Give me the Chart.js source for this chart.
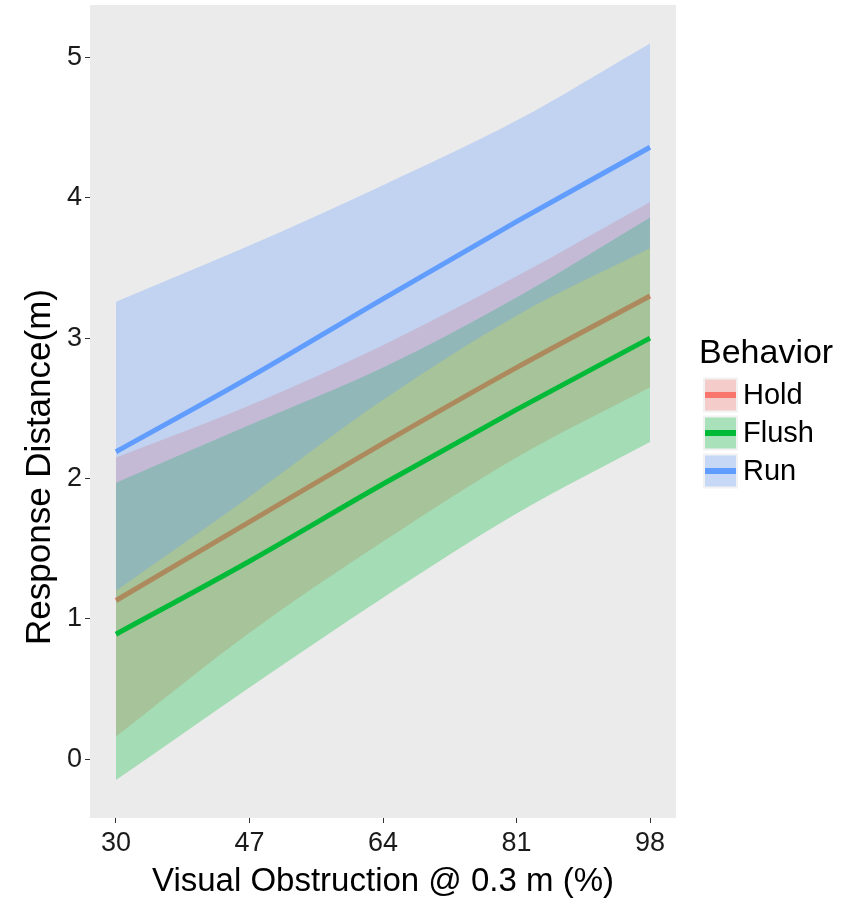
<!DOCTYPE html>
<html>
<head>
<meta charset="utf-8">
<script src="https://cdn.jsdelivr.net/npm/chart.js@4.4.1/dist/chart.umd.min.js"></script>
<style>
  html, body { margin: 0; padding: 0; background: #ffffff; }
  #wrap { width: 850px; height: 899px; }
</style>
</head>
<body>
<div id="wrap"><canvas id="c" width="850" height="899"></canvas></div>
<script>
// Visual obstruction (%) at which each behaviour is summarised
const xTicks = [30, 47, 64, 81, 98];
const yTicks = [0, 1, 2, 3, 4, 5];

// Fitted response distance (m) with its confidence band, per behaviour
const holdFit    = [1.13, 1.69, 2.25, 2.79, 3.30];
const holdUpper  = [2.15, 2.52, 2.95, 3.44, 3.97];
const holdLower  = [0.16, 0.90, 1.55, 2.15, 2.65];

const flushFit   = [0.89, 1.41, 1.96, 2.49, 3.00];
const flushUpper = [1.97, 2.38, 2.79, 3.29, 3.86];
const flushLower = [-0.15, 0.51, 1.15, 1.75, 2.26];

const runFit     = [2.19, 2.72, 3.28, 3.83, 4.36];
const runUpper   = [3.26, 3.66, 4.09, 4.55, 5.10];
const runLower   = [1.20, 1.87, 2.56, 3.16, 3.64];

const behaviors = ['Hold', 'Flush', 'Run'];
const lineColors = { Hold: '#F8766D', Flush: '#00BA38', Run: '#619CFF' };
const bandColors = {
  Hold: 'rgba(248,118,109,0.3)',
  Flush: 'rgba(0,186,56,0.3)',
  Run: 'rgba(97,156,255,0.3)'
};

const pts = arr => arr.map((v, i) => ({ x: xTicks[i], y: v }));

function bandPair(name, upper, lower, lowerIndex, order) {
  return [
    { label: name + ' upper', data: pts(upper), borderWidth: 0, pointRadius: 0,
      backgroundColor: bandColors[name], fill: lowerIndex, order: order,
      cubicInterpolationMode: 'monotone' },
    { label: name + ' lower', data: pts(lower), borderWidth: 0, pointRadius: 0,
      fill: false, order: order, cubicInterpolationMode: 'monotone' }
  ];
}
function fitLine(name, vals, order) {
  return { label: name, data: pts(vals), borderColor: lineColors[name], borderWidth: 5,
    pointRadius: 0, fill: false, order: order, cubicInterpolationMode: 'monotone',
    borderCapStyle: 'butt', borderJoinStyle: 'round' };
}

// Paint order: each behaviour's band then its line, Hold first, Run last
const datasets = [
  ...bandPair('Hold', holdUpper, holdLower, 1, 5),
  fitLine('Hold', holdFit, 4),
  ...bandPair('Flush', flushUpper, flushLower, 4, 3),
  fitLine('Flush', flushFit, 2),
  ...bandPair('Run', runUpper, runLower, 7, 1),
  fitLine('Run', runFit, 0)
];

const FONT = "'Liberation Sans', Arial, Helvetica, sans-serif";

const panelBg = {
  id: 'panelBg',
  beforeDraw(chart) {
    const { ctx, chartArea: a } = chart;
    ctx.save();
    ctx.fillStyle = '#EBEBEB';
    ctx.fillRect(a.left, a.top, a.right - a.left, a.bottom - a.top);
    ctx.restore();
  }
};

const titlesAndLegend = {
  id: 'titlesAndLegend',
  afterDraw(chart) {
    const { ctx } = chart;
    ctx.save();
    ctx.fillStyle = '#000000';
    // axis titles
    ctx.font = '33px ' + FONT;
    ctx.textAlign = 'center';
    ctx.textBaseline = 'middle';
    ctx.fillText('Visual Obstruction @ 0.3 m (%)', 383, 882);
    ctx.save();
    ctx.translate(40, 467);
    ctx.rotate(-Math.PI / 2);
    ctx.font = '35px ' + FONT;
    ctx.fillText('Response Distance(m)', 0, 0);
    ctx.restore();

    // legend
    ctx.textAlign = 'left';
    ctx.font = '34px ' + FONT;
    ctx.fillText('Behavior', 699, 354);
    ctx.font = '29px ' + FONT;
    behaviors.forEach((b, i) => {
      const cy = 395 + i * 38;
      const x0 = 703, w = 35, h = 35;
      ctx.fillStyle = '#F2F2F2';
      ctx.fillRect(x0, cy - h / 2, w, h);
      ctx.fillStyle = bandColors[b];
      ctx.fillRect(x0 + 2, cy - h / 2 + 2, w - 4, h - 4);
      ctx.fillStyle = lineColors[b];
      ctx.fillRect(x0 + 2, cy - 3, w - 4, 6);
      ctx.fillStyle = '#000000';
      ctx.fillText(b, 743, cy + 1);
    });
    ctx.restore();
  }
};

new Chart(document.getElementById('c'), {
  type: 'line',
  data: { datasets },
  plugins: [panelBg, titlesAndLegend],
  options: {
    responsive: false,
    animation: false,
    devicePixelRatio: 1,
    layout: { padding: { left: 0, top: 5, right: 174, bottom: 0 } },
    plugins: {
      legend: { display: false },
      tooltip: { enabled: false },
      filler: { propagate: false }
    },
    scales: {
      x: {
        type: 'linear',
        min: 26.69, max: 101.31,
        afterBuildTicks: s => { s.ticks = xTicks.map(v => ({ value: v })); },
        afterFit: s => { s.height = 81; s.paddingLeft = 0; s.paddingRight = 0; },
        grid: { drawOnChartArea: false, drawTicks: true, tickLength: 5, color: '#333333', lineWidth: 1 },
        border: { display: false },
        ticks: { color: '#1a1a1a', font: { family: FONT, size: 27 }, padding: 4, maxRotation: 0,
          autoSkip: false }
      },
      y: {
        type: 'linear',
        min: -0.42, max: 5.374,
        afterBuildTicks: s => { s.ticks = yTicks.map(v => ({ value: v })); },
        afterFit: s => { s.width = 90; s.paddingTop = 0; s.paddingBottom = 0; },
        grid: { drawOnChartArea: false, drawTicks: true, tickLength: 5, color: '#333333', lineWidth: 1 },
        border: { display: false },
        ticks: { color: '#1a1a1a', font: { family: FONT, size: 27 }, padding: 3, autoSkip: false }
      }
    }
  }
});
</script>
</body>
</html>
